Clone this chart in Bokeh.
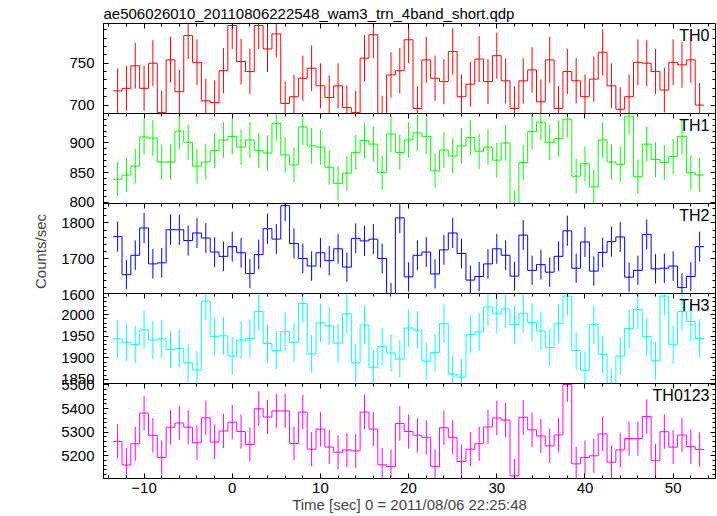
import numpy as np
from bokeh.plotting import figure
from bokeh.layouts import column
from bokeh.models import Range1d, LinearAxis, SingleIntervalTicker, Label, Title
from bokeh.embed import file_html
from bokeh.resources import INLINE

# ---------------- data (counts/sec, 1 s bins) ----------------
BIN_SEC = 1.0
time_sec = list(range(-13, 54))

th0 = [717, 720, 747, 720, 750, 691, 754, 716, 783, 751, 705, 703, 741,
       795, 752, 740, 795, 767, 785, 702, 710, 732, 744,
       723, 709, 723, 697, 691, 756, 784, 685, 736, 741,
       778, 696, 754, 732, 728, 764, 710, 725, 755, 728,
       759, 729, 696, 729, 742, 704, 754, 696, 740, 729,
       710, 731, 763, 723, 695, 710, 751, 750, 740, 718,
       751, 748, 754, 700]

th1 = [839, 846, 861, 910, 908, 868, 868, 920, 901, 861, 868, 887, 905,
       911, 893, 905, 887, 883, 933, 880, 863, 927, 895,
       893, 859, 832, 849, 884, 904, 898, 850, 915, 884,
       905, 917, 911, 853, 888, 878, 895, 909, 886, 893,
       871, 900, 792, 867, 919, 935, 901, 907, 940, 844,
       865, 826, 905, 868, 864, 945, 843, 898, 872, 867,
       877, 911, 850, 846]

th2 = [1762, 1656, 1710, 1786, 1686, 1689, 1781, 1781, 1751, 1772, 1758, 1719, 1707,
       1734, 1717, 1659, 1712, 1784, 1755, 1848, 1743, 1701, 1680,
       1717, 1695, 1728, 1677, 1757, 1750, 1755, 1701, 1594, 1814,
       1650, 1710, 1719, 1658, 1725, 1772, 1715, 1641, 1651, 1686,
       1728, 1710, 1652, 1766, 1668, 1684, 1663, 1707, 1778, 1674,
       1747, 1666, 1718, 1748, 1761, 1649, 1668, 1768, 1672, 1674,
       1680, 1620, 1651, 1734]

th3 = [1944, 1936, 1931, 1965, 1941, 1944, 1919, 1922, 1888, 1872, 2031, 1949, 1951,
       1904, 1941, 1945, 2007, 1933, 1917, 1961, 1936, 2026, 1909,
       1981, 1974, 1934, 2002, 1888, 1976, 1877, 1926, 1911, 1897,
       1969, 1964, 1892, 1912, 1979, 1862, 1855, 1954, 1960, 2018,
       2002, 2013, 1977, 2003, 1982, 1962, 1924, 1979, 2043, 1917,
       1871, 1977, 1908, 1832, 1904, 1968, 2012, 1949, 1893, 2043,
       1930, 2007, 1984, 1945]

th0123 = [5261, 5161, 5251, 5381, 5287, 5193, 5321, 5339, 5321, 5255, 5361, 5258, 5305,
          5342, 5303, 5248, 5399, 5364, 5390, 5390, 5252, 5385, 5228,
          5313, 5237, 5215, 5225, 5221, 5385, 5313, 5162, 5155, 5337,
          5303, 5287, 5278, 5155, 5319, 5278, 5176, 5228, 5251, 5322,
          5360, 5351, 5115, 5363, 5310, 5284, 5242, 5288, 5502, 5166,
          5193, 5200, 5293, 5173, 5225, 5273, 5273, 5366, 5179, 5302,
          5237, 5288, 5239, 5227]

panel_names = ["TH0", "TH1", "TH2", "TH3", "TH0123"]
panel_values = [th0, th1, th2, th3, th0123]

title_text = "ae506026010_20110806222548_wam3_trn_4band_short.qdp"
x_label = "Time [sec] 0 = 2011/08/06 22:25:48"
y_label = "Counts/sec"

# ---------------- style ----------------
colors = ["#ff0000", "#00ff00", "#0000ff", "#00ffff", "#ff00ff"]
y_ranges = [(682.8, 797.4), (788.0, 949.5), (1587.0, 1854.0), (1826.5, 2049.0), (5104.0, 5506.0)]
y_major = [50, 50, 100, 50, 100]
FONT = "Liberation Sans"

W = 716
LEFT = 103
RIGHT = 1
PH = 90       # frame height of each panel
TOP = 23      # room for the title
BOTTOM = 36   # room for x tick labels + axis label
PAD = 9       # transparent overlap band between stacked panels
EXTRA = 3     # extra padding the layout adds on each vertical side

xr = Range1d(-14.6, 54.8)
t = np.array(time_sec, dtype=float)
edges = np.append(t - BIN_SEC / 2, t[-1] + BIN_SEC / 2)


def style_axis(ax, show_labels):
    ax.major_tick_in = 5
    ax.major_tick_out = 0
    ax.minor_tick_in = 3
    ax.minor_tick_out = 0
    ax.axis_line_color = "black"
    ax.axis_line_width = 1
    ax.major_tick_line_color = "black"
    ax.minor_tick_line_color = "black"
    if show_labels:
        ax.major_label_text_font = FONT
        ax.major_label_text_font_size = "15px"
        ax.major_label_text_color = "black"
    else:
        ax.major_label_text_color = None
        ax.major_label_standoff = 0


figs = []
n = len(panel_names)
for i in range(n):
    first = i == 0
    last = i == n - 1
    btop = TOP if first else PAD
    bbot = BOTTOM if last else PAD
    ylo, yhi = y_ranges[i]
    p = figure(width=W, height=PH + btop + bbot + 2 * EXTRA,
               output_backend="svg", toolbar_location=None,
               x_range=xr, y_range=Range1d(ylo, yhi),
               x_axis_location=None, y_axis_location=None,
               min_border_left=LEFT, min_border_right=RIGHT,
               min_border_top=btop, min_border_bottom=bbot)
    if not first:
        p.margin = (-(2 * PAD + 2 * EXTRA), 0, 0, 0)
    p.grid.visible = False
    p.outline_line_color = "black"
    p.background_fill_color = "white"
    p.border_fill_alpha = 0

    yt = lambda: SingleIntervalTicker(interval=y_major[i], num_minor_ticks=5)
    xt = lambda: SingleIntervalTicker(interval=10, num_minor_ticks=5)

    left = LinearAxis(ticker=yt())
    style_axis(left, True)
    left.major_label_standoff = 9
    if i == 2:
        left.axis_label = y_label
        left.axis_label_text_font = FONT
        left.axis_label_text_font_size = "15px"
        left.axis_label_text_font_style = "normal"
        left.axis_label_standoff = 9
    p.add_layout(left, "left")

    # tick-only frame axes pinned to the frame edges (take no border space)
    right = LinearAxis(ticker=yt(), fixed_location=xr.end)
    style_axis(right, False)
    p.add_layout(right, "right")

    top = LinearAxis(ticker=xt(), fixed_location=yhi)
    style_axis(top, False)
    p.add_layout(top, "above")

    if last:
        bottom = LinearAxis(ticker=xt())
        style_axis(bottom, True)
        bottom.major_label_standoff = 4
        bottom.axis_label = x_label
        bottom.axis_label_text_font = FONT
        bottom.axis_label_text_font_size = "15px"
        bottom.axis_label_text_font_style = "normal"
        bottom.axis_label_standoff = 0
    else:
        bottom = LinearAxis(ticker=xt(), fixed_location=ylo)
        style_axis(bottom, False)
    p.add_layout(bottom, "below")

    if first:
        p.title = Title(text=title_text, align="left", text_font=FONT,
                        text_font_size="15px", text_font_style="normal",
                        standoff=4, text_color="black")

    vals = np.array(panel_values[i], dtype=float)
    err = np.sqrt(vals * BIN_SEC) / BIN_SEC
    p.step(x=edges, y=np.append(vals, vals[-1]), mode="after",
           line_color=colors[i], line_width=1)
    p.segment(x0=t, y0=vals - err, x1=t, y1=vals + err,
              line_color=colors[i], line_width=1)

    p.add_layout(Label(x=xr.end, y=yhi, x_offset=-6, y_offset=-3,
                       text=panel_names[i], text_align="right", text_baseline="top",
                       text_font=FONT, text_font_size="16px", text_color="black"))
    figs.append(p)

layout = column(*figs, spacing=0)
open("out.html", "w").write(file_html(layout, INLINE))
